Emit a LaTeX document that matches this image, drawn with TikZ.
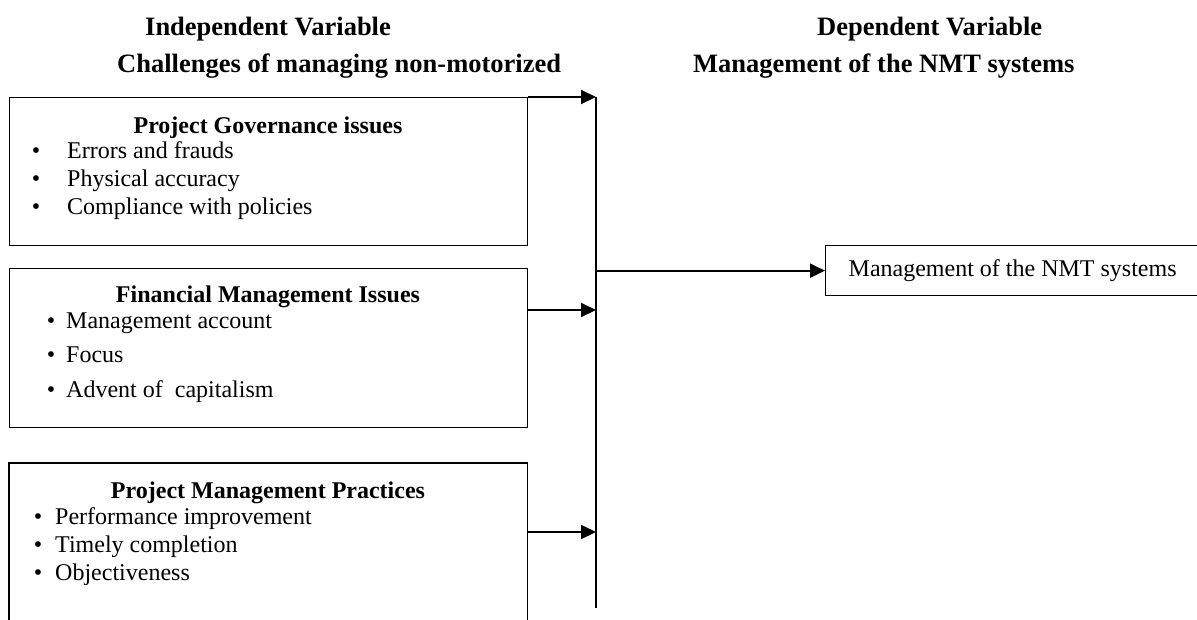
\documentclass[tikz,border=0pt]{standalone}
\usepackage{fontspec}
\setmainfont{Liberation Serif}
\usetikzlibrary{arrows.meta}
\begin{document}
\begin{tikzpicture}[x=1pt,y=-1pt,
  boxline/.style={draw=black, line width=1.3pt},
  conn/.style={line width=2pt, -{Triangle[length=15pt,width=14pt]}},
  headtxt/.style={font=\fontsize{26.5}{30}\selectfont\bfseries, anchor=base west, inner sep=0pt},
  boxtitle/.style={font=\fontsize{24}{28}\selectfont\bfseries, anchor=base, inner sep=0pt},
  itemtxt/.style={font=\fontsize{24}{28}\selectfont, anchor=base west, inner sep=0pt},
  bul/.style={font=\fontsize{24}{28}\selectfont, anchor=base, inner sep=0pt},
  frame/.style={anchor=north west, inner sep=0pt, minimum width=518pt}]
\useasboundingbox (0,0) rectangle (1197,619);

% headings
\node[headtxt] (h1) at (145,35) {Independent Variable};
\node[headtxt] (h2) at (117,72) {Challenges of managing non-motorized};
\node[headtxt] (h3) at (817,35) {Dependent Variable};
\node[headtxt] (h4) at (693,72) {Management of the NMT systems};

% box 1
\node[frame, boxline, minimum height=148pt] (b1) at (9,97) {};
\node[boxtitle] (t1) at (268,133) {Project Governance issues};
\node[bul] (p1a) at (36,158) {\textbullet};
\node[itemtxt] (i1a) at (67,158) {Errors and frauds};
\node[bul] (p1b) at (36,186) {\textbullet};
\node[itemtxt] (i1b) at (67,186) {Physical accuracy};
\node[bul] (p1c) at (36,214) {\textbullet};
\node[itemtxt] (i1c) at (67,214) {Compliance with policies};

% box 2
\node[frame, boxline, minimum height=159pt] (b2) at (9,268) {};
\node[boxtitle] (t2) at (268,302) {Financial Management Issues};
\node[bul] (p2a) at (51,328) {\textbullet};
\node[itemtxt] (i2a) at (66,328) {Management account};
\node[bul] (p2b) at (51,362) {\textbullet};
\node[itemtxt] (i2b) at (66,362) {Focus};
\node[bul] (p2c) at (51,397) {\textbullet};
\node[itemtxt] (i2c) at (66,397) {Advent of\ \ capitalism};

% box 3 (open at the bottom)
\node[frame, minimum height=160pt] (b3) at (9,463) {};
\draw[boxline] (b3.south west) -- (b3.north west) -- (b3.north east) -- (b3.south east);
\node[boxtitle] (t3) at (268,498) {Project Management Practices};
\node[bul] (p3a) at (38,524) {\textbullet};
\node[itemtxt] (i3a) at (55,524) {Performance improvement};
\node[bul] (p3b) at (38,552) {\textbullet};
\node[itemtxt] (i3b) at (55,552) {Timely completion};
\node[bul] (p3c) at (38,580) {\textbullet};
\node[itemtxt] (i3c) at (55,580) {Objectiveness};

% vertical collector line
\coordinate (vtop) at (596,97);
\coordinate (vbot) at (596,608);
\draw[line width=2pt] (vtop) -- (vbot);

% output box
\node[draw=black, line width=1.3pt, anchor=north west, inner sep=0pt,
      minimum width=374pt, minimum height=50pt,
      font=\fontsize{24}{28}\selectfont] (out) at (825,245) {Management of the NMT systems};

% connectors
\draw[conn] (b1.north east) -- (b1.north east -| vtop);
\coordinate (a2) at (527,310);
\draw[conn] (a2) -- (a2 -| vtop);
\coordinate (a3) at (527,532);
\draw[conn] (a3) -- (a3 -| vtop);
\draw[conn] (out.west -| vtop) -- (out.west);
\end{tikzpicture}
\end{document}
